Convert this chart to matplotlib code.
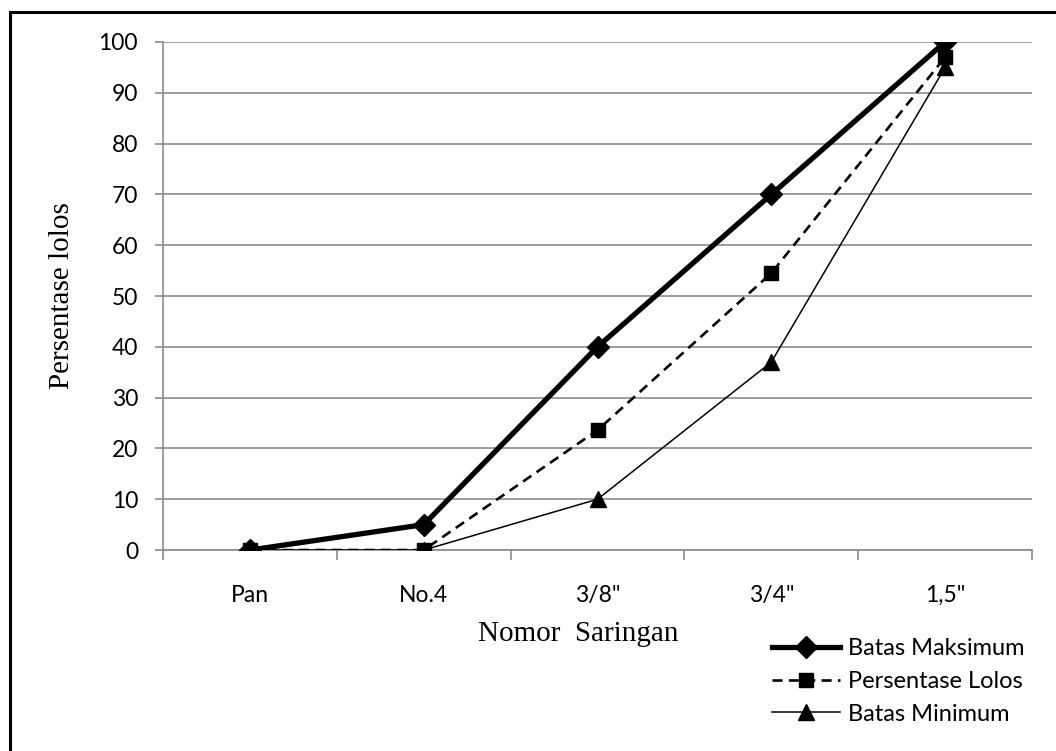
import matplotlib.pyplot as plt
import matplotlib.patches as mpatches
import numpy as np

sieves = ["Pan", "No.4", "3/8\"", "3/4\"", "1,5\""]
batas_maks = [0, 5, 40, 70, 100]
persen_lolos = [0, 0, 23.6, 54.5, 97]
batas_min = [0, 0, 10, 37, 95]
y_ticks = list(range(0, 101, 10))

tick_font = "Lato"
label_font = "Liberation Serif"
grid_gray = "#8c8c8c"

fig = plt.figure(figsize=(10.56, 7.51), dpi=100)
ax = fig.add_axes([0.1544, 0.2676, 0.8229, 0.6765])

x = np.arange(len(sieves))
ax.plot(x, batas_maks, color="black", lw=3.8, marker="D", ms=11,
        label="Batas Maksimum", zorder=5)
ax.plot(x, persen_lolos, color="black", lw=1.9, ls=(0, (3.8, 2.4)), marker="s", ms=10,
        label="Persentase Lolos", zorder=4)
ax.plot(x, batas_min, color="black", lw=1.1, marker="^", ms=11,
        label="Batas Minimum", zorder=3)

ax.set_xlim(-0.5, len(sieves) - 0.5)
ax.set_ylim(0, 100)
ax.set_yticks(y_ticks)
ax.yaxis.grid(True, color=grid_gray, lw=1.2)
ax.set_axisbelow(True)

ax.set_xticks(x)
ax.set_xticklabels(sieves, fontfamily=tick_font, fontsize=16.5)
ax.set_xticks(np.arange(-0.5, len(sieves)), minor=True)
ax.tick_params(axis="x", which="major", length=0, pad=25)
ax.tick_params(axis="x", which="minor", length=7, width=1.2, color=grid_gray)
ax.tick_params(axis="y", length=6, width=1.2, color=grid_gray, pad=12)
for lbl in ax.get_yticklabels():
    lbl.set_fontfamily(tick_font)
    lbl.set_fontsize(16.5)

for side in ["top", "right"]:
    ax.spines[side].set_visible(False)
for side in ["left", "bottom"]:
    ax.spines[side].set_color(grid_gray)
    ax.spines[side].set_linewidth(1.2)

fig.text(62 / 1056, 1 - 296 / 751, "Persentase lolos", fontfamily=label_font,
         fontsize=21, rotation=90, ha="center", va="center")
fig.text(578 / 1056, 1 - 634 / 751, "Nomor  Saringan", fontfamily=label_font,
         fontsize=21, ha="center", va="center")

fig.legend(loc="upper left", bbox_to_anchor=(772 / 1056, 1 - 638 / 751), frameon=False,
           prop={"family": tick_font, "size": 17}, handlelength=2.9,
           handletextpad=0.3, labelspacing=0.5, borderpad=0, borderaxespad=0)

# outer frame of the figure
fig.patches.append(mpatches.Rectangle((10 / 1056, -0.05), 1.2, 1 - 12 / 751 + 0.05,
                                      transform=fig.transFigure, fill=False,
                                      ec="black", lw=2.2))

fig.savefig("out.png", dpi=100)
